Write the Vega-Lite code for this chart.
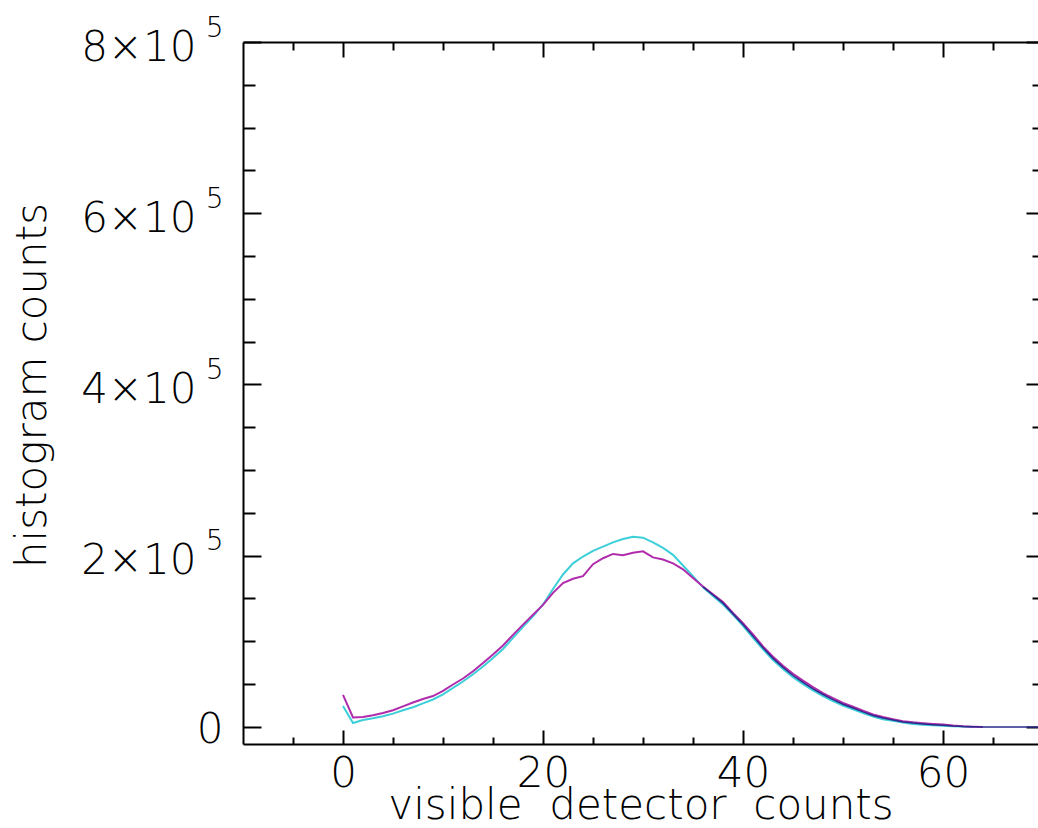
{
  "$schema": "https://vega.github.io/schema/vega-lite/v6.json",
  "width": 795,
  "height": 702,
  "autosize": {"type": "none"},
  "padding": {"left": 243, "top": 42, "right": 0, "bottom": 84},
  "background": "white",
  "config": {
    "view": {"stroke": null},
    "axis": {
      "grid": false,
      "labelFont": "DejaVu Sans",
      "titleFont": "DejaVu Sans",
      "labelFontWeight": 200,
      "titleFontWeight": 200,
      "labelColor": "#000",
      "titleColor": "#000",
      "domainColor": "#000",
      "tickColor": "#000",
      "domainWidth": 2,
      "tickWidth": 2,
      "labelFlush": false,
      "labelOverlap": false
    }
  },
  "datasets": {
    "h": [
      {"x":0,"v":37400,"s":"m"},{"x":1,"v":11000,"s":"m"},{"x":2,"v":11500,"s":"m"},{"x":3,"v":13500,"s":"m"},{"x":4,"v":16300,"s":"m"},{"x":5,"v":19500,"s":"m"},{"x":6,"v":24000,"s":"m"},{"x":7,"v":28500,"s":"m"},{"x":8,"v":32500,"s":"m"},{"x":9,"v":36000,"s":"m"},{"x":10,"v":42000,"s":"m"},{"x":11,"v":49500,"s":"m"},{"x":12,"v":56500,"s":"m"},{"x":13,"v":65000,"s":"m"},{"x":14,"v":74500,"s":"m"},{"x":15,"v":84500,"s":"m"},{"x":16,"v":95000,"s":"m"},{"x":17,"v":107500,"s":"m"},{"x":18,"v":119500,"s":"m"},{"x":19,"v":131000,"s":"m"},{"x":20,"v":142500,"s":"m"},{"x":21,"v":156500,"s":"m"},{"x":22,"v":168000,"s":"m"},{"x":23,"v":173000,"s":"m"},{"x":24,"v":176000,"s":"m"},{"x":25,"v":190000,"s":"m"},{"x":26,"v":197000,"s":"m"},{"x":27,"v":202000,"s":"m"},{"x":28,"v":200500,"s":"m"},{"x":29,"v":203500,"s":"m"},{"x":30,"v":205000,"s":"m"},{"x":31,"v":198000,"s":"m"},{"x":32,"v":195500,"s":"m"},{"x":33,"v":191000,"s":"m"},{"x":34,"v":184000,"s":"m"},{"x":35,"v":174000,"s":"m"},{"x":36,"v":164000,"s":"m"},{"x":37,"v":155000,"s":"m"},{"x":38,"v":146000,"s":"m"},{"x":39,"v":133000,"s":"m"},{"x":40,"v":121000,"s":"m"},{"x":41,"v":108000,"s":"m"},{"x":42,"v":94000,"s":"m"},{"x":43,"v":82000,"s":"m"},{"x":44,"v":71500,"s":"m"},{"x":45,"v":62000,"s":"m"},{"x":46,"v":54000,"s":"m"},{"x":47,"v":46500,"s":"m"},{"x":48,"v":39500,"s":"m"},{"x":49,"v":33500,"s":"m"},{"x":50,"v":28000,"s":"m"},{"x":51,"v":23500,"s":"m"},{"x":52,"v":19000,"s":"m"},{"x":53,"v":14500,"s":"m"},{"x":54,"v":11500,"s":"m"},{"x":55,"v":9000,"s":"m"},{"x":56,"v":6700,"s":"m"},{"x":57,"v":5300,"s":"m"},{"x":58,"v":4300,"s":"m"},{"x":59,"v":3500,"s":"m"},{"x":60,"v":2700,"s":"m"},{"x":61,"v":1500,"s":"m"},{"x":62,"v":600,"s":"m"},{"x":63,"v":200,"s":"m"},{"x":64,"v":0,"s":"m"},

      {"x":0,"v":24500,"s":"c"},{"x":1,"v":4500,"s":"c"},{"x":2,"v":8000,"s":"c"},{"x":3,"v":10000,"s":"c"},{"x":4,"v":12500,"s":"c"},{"x":5,"v":15500,"s":"c"},{"x":6,"v":19500,"s":"c"},{"x":7,"v":23000,"s":"c"},{"x":8,"v":27500,"s":"c"},{"x":9,"v":32000,"s":"c"},{"x":10,"v":38000,"s":"c"},{"x":11,"v":45500,"s":"c"},{"x":12,"v":53000,"s":"c"},{"x":13,"v":61500,"s":"c"},{"x":14,"v":70500,"s":"c"},{"x":15,"v":80500,"s":"c"},{"x":16,"v":91000,"s":"c"},{"x":17,"v":104000,"s":"c"},{"x":18,"v":117000,"s":"c"},{"x":19,"v":129000,"s":"c"},{"x":20,"v":143000,"s":"c"},{"x":21,"v":161000,"s":"c"},{"x":22,"v":178000,"s":"c"},{"x":23,"v":191000,"s":"c"},{"x":24,"v":199000,"s":"c"},{"x":25,"v":205500,"s":"c"},{"x":26,"v":210500,"s":"c"},{"x":27,"v":215500,"s":"c"},{"x":28,"v":219500,"s":"c"},{"x":29,"v":222000,"s":"c"},{"x":30,"v":221000,"s":"c"},{"x":31,"v":215500,"s":"c"},{"x":32,"v":209000,"s":"c"},{"x":33,"v":201000,"s":"c"},{"x":34,"v":188500,"s":"c"},{"x":35,"v":176000,"s":"c"},{"x":36,"v":163000,"s":"c"},{"x":37,"v":153000,"s":"c"},{"x":38,"v":143000,"s":"c"},{"x":39,"v":131000,"s":"c"},{"x":40,"v":118000,"s":"c"},{"x":41,"v":104000,"s":"c"},{"x":42,"v":90500,"s":"c"},{"x":43,"v":78000,"s":"c"},{"x":44,"v":67500,"s":"c"},{"x":45,"v":58000,"s":"c"},{"x":46,"v":50000,"s":"c"},{"x":47,"v":42500,"s":"c"},{"x":48,"v":36000,"s":"c"},{"x":49,"v":30000,"s":"c"},{"x":50,"v":25000,"s":"c"},{"x":51,"v":20500,"s":"c"},{"x":52,"v":16000,"s":"c"},{"x":53,"v":12000,"s":"c"},{"x":54,"v":9000,"s":"c"},{"x":55,"v":7000,"s":"c"},{"x":56,"v":5000,"s":"c"},{"x":57,"v":3500,"s":"c"},{"x":58,"v":2500,"s":"c"},{"x":59,"v":1800,"s":"c"},{"x":60,"v":1200,"s":"c"},{"x":61,"v":600,"s":"c"},{"x":62,"v":300,"s":"c"},{"x":63,"v":0,"s":"c"},

      {"x":36,"v":163500,"s":"n"},{"x":37,"v":154000,"s":"n"},{"x":38,"v":144500,"s":"n"},{"x":39,"v":132000,"s":"n"},{"x":40,"v":119500,"s":"n"},{"x":41,"v":106000,"s":"n"},{"x":42,"v":92300,"s":"n"},{"x":43,"v":80000,"s":"n"},{"x":44,"v":69500,"s":"n"},{"x":45,"v":60000,"s":"n"},{"x":46,"v":52000,"s":"n"},{"x":47,"v":44500,"s":"n"},{"x":48,"v":37800,"s":"n"},{"x":49,"v":31800,"s":"n"},{"x":50,"v":26500,"s":"n"},{"x":51,"v":22000,"s":"n"},{"x":52,"v":17500,"s":"n"},{"x":53,"v":13300,"s":"n"},{"x":54,"v":10300,"s":"n"},{"x":55,"v":8000,"s":"n"},{"x":56,"v":5800,"s":"n"},{"x":57,"v":4400,"s":"n"},{"x":58,"v":3400,"s":"n"},{"x":59,"v":2600,"s":"n"},{"x":60,"v":1900,"s":"n"},{"x":61,"v":1000,"s":"n"},{"x":62,"v":400,"s":"n"},{"x":63,"v":100,"s":"n"},{"x":64,"v":0,"s":"n"},{"x":66,"v":0,"s":"n"},{"x":68,"v":0,"s":"n"},{"x":70,"v":0,"s":"n"}
    ]
  },
  "data": {"name": "h"},
  "resolve": {"axis": {"x": "independent", "y": "independent"}},
  "layer": [
    {
      "transform": [{"filter": "datum.s == 'c'"}],
      "mark": {"type": "line", "color": "#3ccfd8", "strokeWidth": 2, "clip": true},
      "encoding": {
        "x": {"field": "x", "type": "quantitative", "scale": {"domain": [-10, 69.5], "nice": false, "zero": false},
          "axis": {"orient": "bottom", "values": [0, 20, 40, 60], "ticks": false, "domain": true, "labelFontSize": 42, "labelPadding": 9, "labelBaseline": "top",
            "title": "visible\u00a0\u00a0detector\u00a0\u00a0counts", "titleFontSize": 42, "titleBaseline": "alphabetic", "titleAlign": "center", "titleX": 397.5, "titleY": 74}},
        "y": {"field": "v", "type": "quantitative", "scale": {"domain": [-20000, 800000], "nice": false, "zero": false},
          "axis": {"orient": "left", "values": [200000, 400000, 600000, 800000], "ticks": false, "domain": true, "labelExpr": "(datum.value/100000) + '×10'", "labelFontSize": 42, "labelPadding": 47, "labelBaseline": "middle", "labelOffset": 5,
            "title": "histogram counts", "titleFontSize": 42, "titleAngle": 270, "titleBaseline": "alphabetic", "titleAlign": "center", "titleX": -198, "titleY": 343}}
      }
    },
    {
      "transform": [{"filter": "datum.s == 'm'"}],
      "mark": {"type": "line", "color": "#b02cac", "strokeWidth": 2, "clip": true},
      "encoding": {
        "x": {"field": "x", "type": "quantitative", "scale": {"domain": [-10, 69.5], "nice": false, "zero": false},
          "axis": {"orient": "bottom", "values": [0, 20, 40, 60], "labels": false, "domain": false, "tickSize": -14, "title": null}},
        "y": {"field": "v", "type": "quantitative", "scale": {"domain": [-20000, 800000], "nice": false, "zero": false},
          "axis": {"orient": "left", "values": [200000, 400000, 600000, 800000], "ticks": false, "domain": false, "labelExpr": "'5'", "labelFontSize": 28, "labelPadding": 20, "labelBaseline": "middle", "labelOffset": -14, "title": null}}
      }
    },
    {
      "transform": [{"filter": "datum.s == 'n'"}],
      "mark": {"type": "line", "color": "#2c2c8c", "strokeWidth": 1.5, "clip": true},
      "encoding": {
        "x": {"field": "x", "type": "quantitative", "scale": {"domain": [-10, 69.5], "nice": false, "zero": false},
          "axis": {"orient": "bottom", "values": [-5, 5, 10, 15, 25, 30, 35, 45, 50, 55, 65], "labels": false, "domain": false, "tickSize": -7, "title": null}},
        "y": {"field": "v", "type": "quantitative", "scale": {"domain": [-20000, 800000], "nice": false, "zero": false},
          "axis": {"orient": "left", "values": [0], "ticks": false, "domain": false, "labelExpr": "'0'", "labelFontSize": 42, "labelPadding": 20, "labelBaseline": "middle", "labelOffset": 3, "title": null}}
      }
    },
    {
      "mark": {"type": "point", "opacity": 0},
      "encoding": {
        "x": {"field": "x", "type": "quantitative", "scale": {"domain": [-10, 69.5], "nice": false, "zero": false},
          "axis": {"orient": "top", "values": [0, 20, 40, 60], "labels": false, "domain": true, "tickSize": -15, "title": null}},
        "y": {"field": "v", "type": "quantitative", "scale": {"domain": [-20000, 800000], "nice": false, "zero": false},
          "axis": {"orient": "left", "values": [0, 200000, 400000, 600000, 800000], "labels": false, "domain": false, "tickSize": -18, "title": null}}
      }
    },
    {
      "mark": {"type": "point", "opacity": 0},
      "encoding": {
        "x": {"field": "x", "type": "quantitative", "scale": {"domain": [-10, 69.5], "nice": false, "zero": false},
          "axis": {"orient": "top", "values": [-5, 5, 10, 15, 25, 30, 35, 45, 50, 55, 65], "labels": false, "domain": false, "tickSize": -8, "title": null}},
        "y": {"field": "v", "type": "quantitative", "scale": {"domain": [-20000, 800000], "nice": false, "zero": false},
          "axis": {"orient": "left", "values": [50000, 100000, 150000, 250000, 300000, 350000, 450000, 500000, 550000, 650000, 700000, 750000], "labels": false, "domain": false, "tickSize": -12, "title": null}}
      }
    },
    {
      "mark": {"type": "point", "opacity": 0},
      "encoding": {
        "x": {"field": "x", "type": "quantitative", "scale": {"domain": [-10, 69.5], "nice": false, "zero": false}, "axis": null},
        "y": {"field": "v", "type": "quantitative", "scale": {"domain": [-20000, 800000], "nice": false, "zero": false},
          "axis": {"orient": "right", "values": [0, 200000, 400000, 600000, 800000], "labels": false, "domain": false, "offset": -12, "tickSize": 12, "title": null}}
      }
    },
    {
      "mark": {"type": "point", "opacity": 0},
      "encoding": {
        "x": {"field": "x", "type": "quantitative", "scale": {"domain": [-10, 69.5], "nice": false, "zero": false}, "axis": null},
        "y": {"field": "v", "type": "quantitative", "scale": {"domain": [-20000, 800000], "nice": false, "zero": false},
          "axis": {"orient": "right", "values": [50000, 100000, 150000, 250000, 300000, 350000, 450000, 500000, 550000, 650000, 700000, 750000], "labels": false, "domain": false, "offset": -6, "tickSize": 6, "title": null}}
      }
    }
  ]
}
